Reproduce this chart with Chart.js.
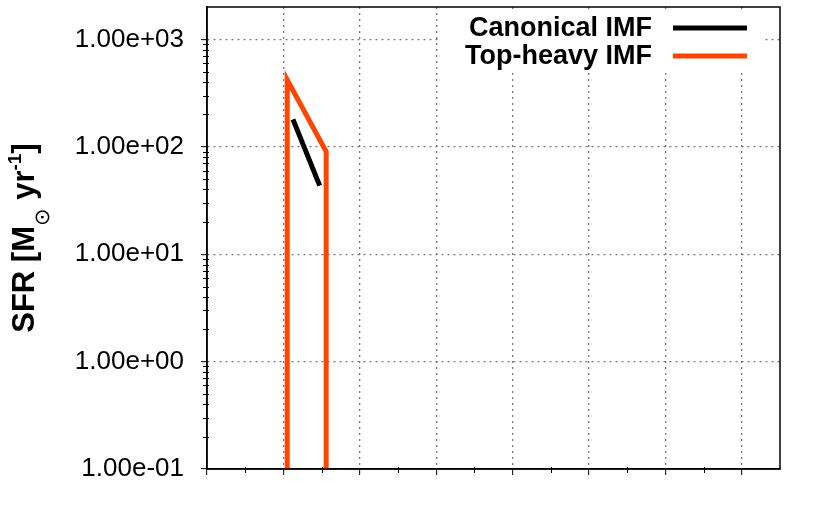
<!DOCTYPE html>
<html>
<head>
<meta charset="utf-8">
<script src="https://cdn.jsdelivr.net/npm/chart.js@4.4.1/dist/chart.umd.min.js"></script>
<style>
  html, body { margin: 0; padding: 0; background: #fff; }
  #wrap { width: 830px; height: 531px; }
</style>
</head>
<body>
<div id="wrap"><canvas id="sfrChart" width="830" height="531"></canvas></div>
<script>
// series (x in plot units, SFR in Msun/yr)
const canonicalX = [2.25, 2.95];
const canonicalSFR = [180, 43.5];
const topHeavyX = [2.1, 2.1, 3.12, 3.12];
const topHeavySFR = [0.1, 420, 90, 0.1];

const seriesLabels = ['Canonical IMF', 'Top-heavy IMF'];
const seriesColors = ['#000000', '#ff4500'];

// axes
const yMajorTicks = [0.1, 1, 10, 100, 1000];
const yTickLabels = ['1.00e-01', '1.00e+00', '1.00e+01', '1.00e+02', '1.00e+03'];
const xMajorTicks = [0, 2, 4, 6, 8, 10, 12, 14];
const xMinorTicks = [1, 3, 5, 7, 9, 11, 13];

const FONT = '"Liberation Sans", Arial, Helvetica, sans-serif';

function toPoints(xs, ys) {
  return xs.map((x, i) => ({ x: x, y: ys[i] }));
}

// minor log ticks: 2..9 x each decade
function yMinorTicks() {
  const out = [];
  for (let d = -1; d < 4; d++) {
    for (let m = 2; m <= 9; m++) {
      const v = m * Math.pow(10, d);
      if (v < 2000) out.push(v);
    }
  }
  return out;
}

const framePlugin = {
  id: 'framePlugin',
  afterDraw(chart) {
    const ctx = chart.ctx;
    const area = chart.chartArea;
    const xs = chart.scales.x;
    const ys = chart.scales.y;

    ctx.save();
    ctx.setLineDash([]);

    // minor ticks
    ctx.strokeStyle = '#000';
    ctx.lineWidth = 1;
    ctx.beginPath();
    yMinorTicks().forEach(v => {
      const py = Math.round(ys.getPixelForValue(v)) + 0.5;
      ctx.moveTo(area.left - 4, py);
      ctx.lineTo(area.left + 2, py);
    });
    xMinorTicks.forEach(v => {
      const px = Math.round(xs.getPixelForValue(v)) + 0.5;
      ctx.moveTo(px, area.bottom - 2);
      ctx.lineTo(px, area.bottom + 4);
    });
    ctx.stroke();

    // legend (inside plot, white box)
    ctx.fillStyle = '#fff';
    ctx.fillRect(440, 12, 322, 58);
    ctx.font = 'bold 27px ' + FONT;
    ctx.textAlign = 'right';
    ctx.textBaseline = 'middle';
    chart.data.datasets.forEach((ds, i) => {
      const rowY = 28 + i * 28;
      ctx.fillStyle = '#000';
      ctx.fillText(ds.label, 652, rowY + 1);
      ctx.strokeStyle = ds.borderColor;
      ctx.lineWidth = 5;
      ctx.beginPath();
      ctx.moveTo(673, rowY);
      ctx.lineTo(747, rowY);
      ctx.stroke();
    });

    // full frame
    ctx.strokeStyle = '#000';
    ctx.lineWidth = 1.5;
    ctx.strokeRect(area.left, area.top, area.right - area.left, area.bottom - area.top);

    // y axis title: SFR [M_sun yr^-1]
    const parts = [
      { t: 'SFR [M', f: 'bold 31px ' + FONT, dy: 0 },
      { t: '\u2299', f: '21px "DejaVu Sans", sans-serif', dy: 15 },
      { t: ' yr', f: 'bold 31px ' + FONT, dy: 0 },
      { t: '-1', f: 'bold 19px ' + FONT, dy: -13 },
      { t: ']', f: 'bold 31px ' + FONT, dy: 0 }
    ];
    let total = 0;
    parts.forEach(p => { ctx.font = p.f; p.w = ctx.measureText(p.t).width; total += p.w; });
    ctx.translate(34, (area.top + area.bottom) / 2);
    ctx.rotate(-Math.PI / 2);
    ctx.textAlign = 'left';
    ctx.textBaseline = 'alphabetic';
    ctx.fillStyle = '#000';
    let cx = -total / 2;
    parts.forEach(p => {
      ctx.font = p.f;
      ctx.fillText(p.t, cx, p.dy);
      cx += p.w;
    });
    ctx.restore();
  }
};

const gridOpts = {
  color: '#777777',
  lineWidth: 1.3,
  drawTicks: true,
  tickLength: 6,
  tickColor: '#000',
  tickWidth: 1,
  tickBorderDash: []
};

new Chart(document.getElementById('sfrChart'), {
  type: 'line',
  data: {
    datasets: [
      {
        label: seriesLabels[0],
        data: toPoints(canonicalX, canonicalSFR),
        borderColor: seriesColors[0],
        borderWidth: 5,
        pointRadius: 0,
        borderJoinStyle: 'miter',
        tension: 0
      },
      {
        label: seriesLabels[1],
        data: toPoints(topHeavyX, topHeavySFR),
        borderColor: seriesColors[1],
        borderWidth: 5,
        pointRadius: 0,
        borderJoinStyle: 'miter',
        tension: 0
      }
    ]
  },
  options: {
    responsive: false,
    animation: false,
    devicePixelRatio: 1,
    layout: { padding: { left: 0, top: 7, right: 50, bottom: 0 } },
    plugins: {
      legend: { display: false },
      tooltip: { enabled: false }
    },
    scales: {
      x: {
        type: 'linear',
        min: 0,
        max: 15,
        afterBuildTicks: s => { s.ticks = xMajorTicks.map(v => ({ value: v })); },
        afterFit: s => { s.height = 62; s.paddingLeft = 0; s.paddingRight = 0; },
        ticks: { display: false },
        grid: gridOpts,
        border: { display: true, color: '#000', width: 1.5, dash: [2, 4] }
      },
      y: {
        type: 'logarithmic',
        min: 0.1,
        max: 2000,
        afterBuildTicks: s => { s.ticks = yMajorTicks.map(v => ({ value: v })); },
        afterFit: s => { s.width = 207; s.paddingTop = 0; s.paddingBottom = 0; },
        ticks: {
          color: '#000',
          padding: 17,
          font: { family: FONT, size: 26 },
          callback: v => yTickLabels[yMajorTicks.indexOf(v)]
        },
        grid: gridOpts,
        border: { display: true, color: '#000', width: 1.5, dash: [2, 4] }
      }
    }
  },
  plugins: [framePlugin]
});
</script>
</body>
</html>
